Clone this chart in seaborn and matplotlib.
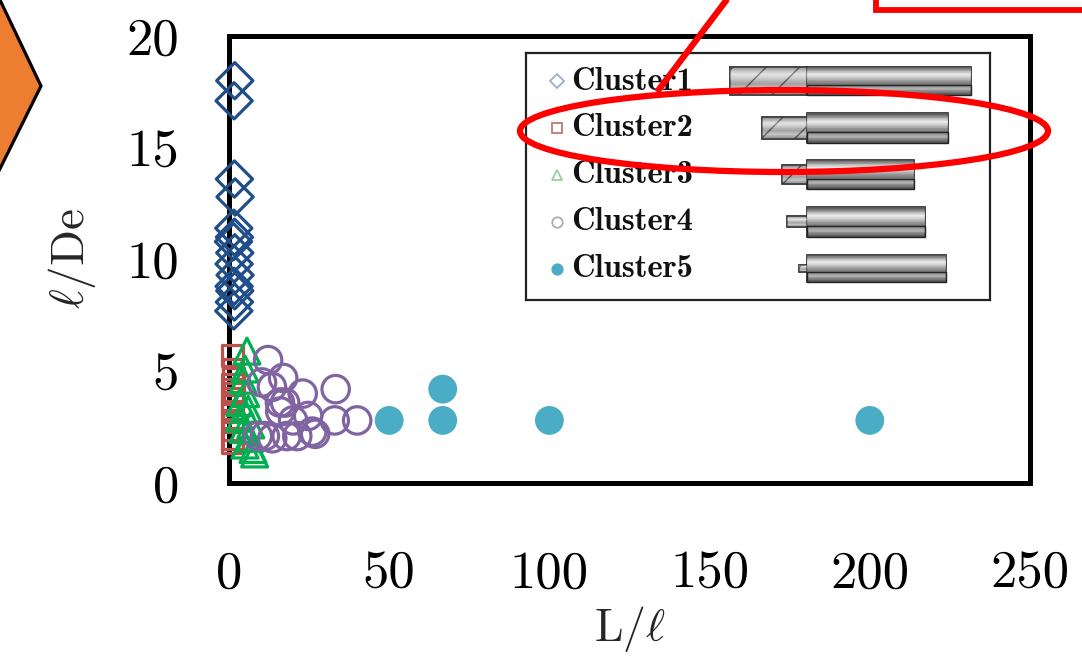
import numpy as np
import pandas as pd
import matplotlib
matplotlib.use("Agg")
import matplotlib.pyplot as plt
import seaborn as sns
from matplotlib.patches import Polygon, Ellipse, Rectangle

# ---------------- data ----------------
c1_x = [1.8, 1.6, 1.7, 1.9, 1.5, 1.7, 1.4, 1.8, 1.6, 1.9, 1.6, 1.8, 1.7, 1.5]
c1_y = [18.0, 17.1, 13.6, 12.8, 11.4, 11.0, 10.8, 10.3, 9.8, 9.3, 8.8, 8.6, 8.1, 7.7]
c2_x = [1.0, 1.2, 1.4, 1.0, 1.5, 1.1, 1.0, 1.3, 1.0, 1.2, 1.0]
c2_y = [5.7, 5.1, 4.7, 4.4, 4.0, 3.6, 3.2, 2.8, 2.4, 2.0, 1.8]
c3_x = [5.6, 5.0, 4.4, 5.2, 3.4, 6.0, 3.4, 4.4, 6.5, 5.0, 7.5, 8.0, 6.8]
c3_y = [5.9, 5.1, 4.6, 4.0, 3.6, 3.3, 2.9, 2.4, 2.0, 1.7, 1.5, 1.3, 2.6]
c4_x = [12.2, 10.3, 13.4, 16.9, 15.9, 23.0, 33.3, 17.5, 24.7, 33.0, 40.0, 26.0,
        9.0, 11.2, 13.5, 18.0, 21.3, 26.9, 16.0, 20.0]
c4_y = [5.5, 4.5, 4.3, 4.7, 3.6, 4.0, 4.2, 3.6, 3.0, 2.8, 2.8, 2.3,
        2.1, 2.1, 2.0, 2.1, 2.1, 2.2, 3.2, 2.8]
c5_x = [50.0, 66.7, 66.7, 100.0, 200.0]
c5_y = [2.8, 2.8, 4.2, 2.8, 2.8]

cluster_names = ["Cluster1", "Cluster2", "Cluster3", "Cluster4", "Cluster5"]
x_ticks = [0, 50, 100, 150, 200, 250]
y_ticks = [0, 5, 10, 15, 20]

# schematic fibre bars in the legend (hatched part / solid part lengths, row heights)
hatch_len = [77, 45, 25, 20, 8]
solid_len = [164, 141, 107, 118, 139]
hatch_h = [0.60, 0.45, 0.40, 0.23, 0.15]
solid_h = [0.60, 0.64, 0.62, 0.64, 0.58]

# ---------------- style ----------------
sns.set_style("white")
plt.rcParams["font.family"] = ["cmr10", "DejaVu Serif"]
plt.rcParams["mathtext.fontset"] = "cm"
plt.rcParams["axes.formatter.use_mathtext"] = True
plt.rcParams["axes.unicode_minus"] = False

colors = ["#1F4E89", "#C0504D", "#00B050", "#8064A2", "#4BACC6"]
markers = ["D", "s", "^", "o", "o"]
sizes = [340, 220, 350, 390, 430]
light_colors = ["#9AB0D0", "#C07878", "#9CCF9C", "#B0A8B8", "#4BACC6"]

fig = plt.figure(figsize=(10.82, 6.58), dpi=100)
W, H = 1082, 658
ax = fig.add_axes([229 / W, 1 - 483 / H, (1030 - 229) / W, (483 - 36) / H])

data_sets = [(c1_x, c1_y), (c2_x, c2_y), (c3_x, c3_y), (c4_x, c4_y), (c5_x, c5_y)]
for i, (xs, ys) in enumerate(data_sets):
    df = pd.DataFrame({"x": xs, "y": ys})
    if i < 4:
        sns.scatterplot(data=df, x="x", y="y", ax=ax, marker=markers[i], s=sizes[i],
                        color=colors[i], facecolor="none", edgecolor=colors[i],
                        linewidth=2.3, clip_on=False, zorder=4, legend=False)
    else:
        sns.scatterplot(data=df, x="x", y="y", ax=ax, marker=markers[i], s=sizes[i],
                        color=colors[i], edgecolor="none", linewidth=0,
                        clip_on=False, zorder=4, legend=False)

ax.set_xlim(0, 250)
ax.set_ylim(0, 20)
ax.set_xticks(x_ticks)
ax.set_yticks(y_ticks)
ax.set_xticklabels([str(t) for t in x_ticks])
ax.set_yticklabels([str(t) for t in y_ticks])
for s in ax.spines.values():
    s.set_linewidth(3.6)
    s.set_color("black")
ax.tick_params(axis="both", direction="in", length=12, width=3.2, labelsize=38,
               colors="black")
ax.tick_params(axis="y", pad=36)
ax.tick_params(axis="x", pad=49)
ax.set_xlabel(r"$\mathrm{L}/\ell$", fontsize=33)
ax.set_ylabel(r"$\ell/\mathrm{De}$", fontsize=34)
ax.xaxis.set_label_coords((630 - 229) / 801, (483 - 604) / 447)
ax.xaxis.label.set_va("top")
ax.yaxis.set_label_coords((72 - 229) / 801, (483 - 259) / 447)
ax.yaxis.label.set_va("center")

# ---------------- legend inset with fibre schematics ----------------
lg = fig.add_axes([526 / W, 1 - 300 / H, (990 - 526) / W, (300 - 53) / H], zorder=5)
lg.set_facecolor("white")
lg.set_xlim(-281, 183)
lg.set_ylim(4.67, -0.6)
lg.set_xticks([])
lg.set_yticks([])
for s in lg.spines.values():
    s.set_linewidth(1.6)
    s.set_color("#222222")
rows = np.arange(len(cluster_names))
hb = lg.barh(rows, hatch_len, left=[-h for h in hatch_len], height=hatch_h,
             color="#d4d4d4", edgecolor="#222222", linewidth=1.2, hatch="/")
sb = lg.barh(rows, solid_len, left=0, height=solid_h, color="#aaaaaa",
             edgecolor="#222222", linewidth=1.2)
grad = np.array([0.35, 0.55, 0.8, 0.95, 0.85, 0.7, 0.55, 0.45, 0.6, 0.7, 0.5, 0.35])[:, None]
for p in list(sb) + list(hb):
    x0, y0 = p.get_x(), p.get_y()
    w, h = p.get_width(), p.get_height()
    im = lg.imshow(grad, extent=(x0, x0 + w, y0 + h, y0), origin="upper",
                   cmap="gray", vmin=0, vmax=1, aspect="auto", zorder=1.5,
                   alpha=0.9 if p in sb else 0.5)
    im.set_clip_path(p)
# lower edge line of the solid cylinders
lg.barh(rows + np.array(solid_h) * 0.32, solid_len, left=0,
        height=np.array(solid_h) * 0.36, color="none", edgecolor="#222222",
        linewidth=1.0, zorder=3)
lg.set_xlim(-281, 183)
lg.set_ylim(4.67, -0.6)
for i, name in enumerate(cluster_names):
    fill = light_colors[i] if i == 4 else "none"
    lg.plot([-250], [i], marker=markers[i], markersize=7.5, markerfacecolor=fill,
            markeredgecolor=light_colors[i], markeredgewidth=1.3, linestyle="none")
    lg.text(-236, i, name, fontsize=23.5, fontfamily="cmb10", va="center",
            ha="left", color="#111111")

# ---------------- annotations overlay ----------------
ov = fig.add_axes([0, 0, 1, 1], zorder=10)
ov.set_xlim(0, W)
ov.set_ylim(H, 0)
ov.axis("off")
ov.patch.set_alpha(0)
ov.add_patch(Polygon([(-20, -42), (41, 86), (-20, 209)], closed=True,
                     facecolor="#ED7D31", edgecolor="black", linewidth=2.3))
ov.add_patch(Rectangle((876, -60), 400, 70, facecolor="none", edgecolor="#FF0000",
                       linewidth=4.2))
ov.plot([728, 657], [-2, 92], color="#FF0000", linewidth=4.5, solid_capstyle="butt")
ov.add_patch(Ellipse((784, 131), 528, 82, facecolor="none", edgecolor="#FF0000",
                     linewidth=4.5))

fig.savefig("out.png", dpi=100)
